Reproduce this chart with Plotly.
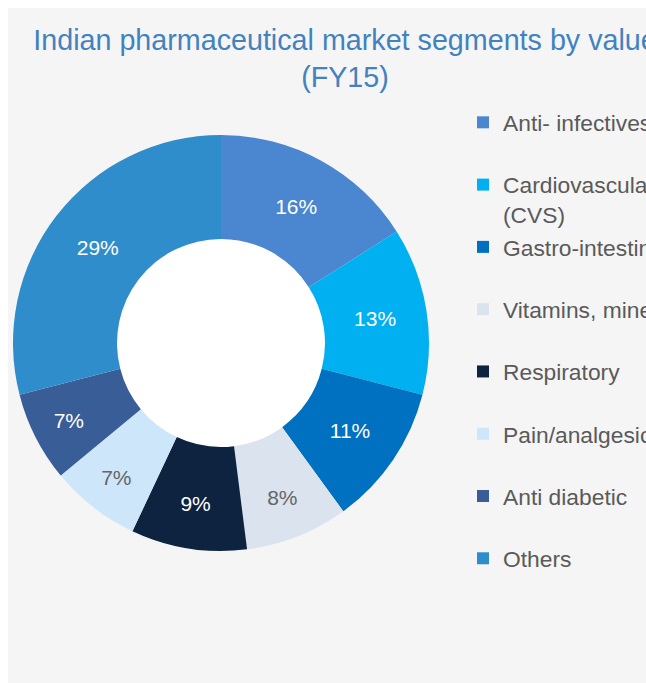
import plotly.graph_objects as go

# ---- data ----
segments = [
    "Anti- infectives",
    "Cardiovascular<br>(CVS)",
    "Gastro-intestinal",
    "Vitamins, minerals",
    "Respiratory",
    "Pain/analgesics",
    "Anti diabetic",
    "Others",
]
shares = [16, 13, 11, 8, 9, 7, 7, 29]
slice_colors = ["#4B86D0", "#00B0F0", "#0070C0", "#DAE3EE",
                "#0E2340", "#CDE6FA", "#385D97", "#2F8DCB"]
label_colors = ["#FFFFFF", "#FFFFFF", "#FFFFFF", "#666666",
                "#FFFFFF", "#666666", "#FFFFFF", "#FFFFFF"]
title_text = "Indian pharmaceutical market segments by value<br>(FY15)"

W, H = 646, 683
cx, cy, R = 221, 343, 208

legend_names = [s if "<br>" in s else s + "<br>\u00a0" for s in segments]

fig = go.Figure(go.Pie(
    labels=legend_names,
    values=shares,
    sort=False,
    direction="clockwise",
    rotation=0,
    hole=0.5,
    marker=dict(colors=slice_colors, line=dict(width=0)),
    texttemplate="%{value}%",
    textposition="inside",
    insidetextorientation="horizontal",
    textfont=dict(family="Liberation Sans, Arial, sans-serif", size=21, color=label_colors),
    domain=dict(x=[(cx - R) / W, (cx + R) / W], y=[1 - (cy + R) / H, 1 - (cy - R) / H]),
    hoverinfo="label+percent",
))

fig.update_layout(
    width=W, height=H, autosize=False,
    margin=dict(l=0, r=0, t=0, b=0, autoexpand=False),
    paper_bgcolor="#FFFFFF",
    plot_bgcolor="#FFFFFF",
    title=dict(
        text=title_text,
        x=345 / W, xanchor="center", xref="paper",
        y=1 - 50 / H, yanchor="top", yref="container",
        font=dict(family="Liberation Sans, Arial, sans-serif", size=28.7, color="#4282BE"),
        automargin=False,
    ),
    legend=dict(
        x=463 / W, xanchor="left",
        y=1 - 101 / H, yanchor="top",
        bgcolor="rgba(0,0,0,0)",
        font=dict(family="Liberation Sans, Arial, sans-serif", size=22.8, color="#5A5A5A"),
        valign="top",
        traceorder="normal",
    ),
    showlegend=True,
    shapes=[
        dict(type="rect", xref="paper", yref="paper", layer="below",
             x0=8 / W, x1=1.0, y0=0, y1=1 - 8 / H,
             fillcolor="#F5F5F5", line=dict(width=0)),
        dict(type="circle", xref="paper", yref="paper", layer="below",
             x0=(cx - 106) / W, x1=(cx + 106) / W,
             y0=1 - (cy + 106) / H, y1=1 - (cy - 106) / H,
             fillcolor="#FFFFFF", line=dict(width=0)),
    ],
)

# place the figure flush with the page so it fills the window exactly
post = """
document.body.style.margin = '0';
document.body.style.overflow = 'hidden';
document.documentElement.style.overflow = 'hidden';
"""

fig.write_html("out.html", config={"responsive": False, "displayModeBar": False},
               post_script=post)
